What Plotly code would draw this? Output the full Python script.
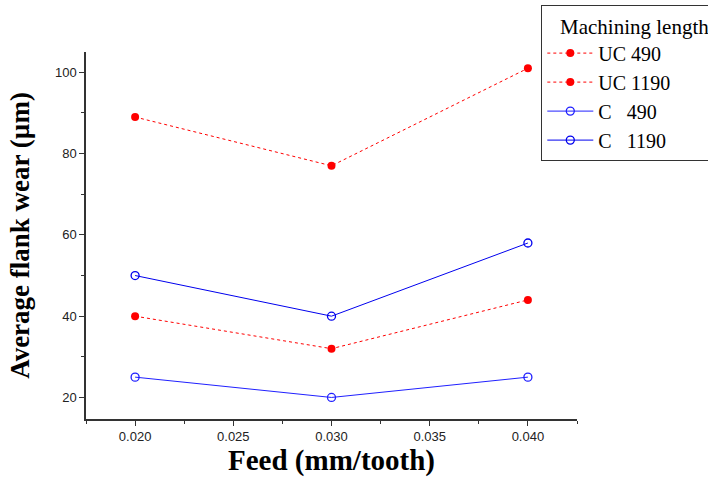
import plotly.graph_objects as go

feed = [0.020, 0.030, 0.040]
uc_490 = [40, 32, 44]
uc_1190 = [89, 77, 101]
c_490 = [25, 20, 25]
c_1190 = [50, 40, 58]
series_names = ["UC 490", "UC 1190", "C   490", "C   1190"]

fig = go.Figure()
fig.add_trace(go.Scatter(x=feed, y=uc_490, name=series_names[0], mode="lines+markers",
                         line=dict(color="#ff0000", width=1, dash="dot"),
                         marker=dict(symbol="circle", size=8, color="#ff0000")))
fig.add_trace(go.Scatter(x=feed, y=uc_1190, name=series_names[1], mode="lines+markers",
                         line=dict(color="#ff0000", width=1, dash="dot"),
                         marker=dict(symbol="circle", size=8, color="#ff0000")))
fig.add_trace(go.Scatter(x=feed, y=c_490, name=series_names[2], mode="lines+markers",
                         line=dict(color="#2020ff", width=1),
                         marker=dict(symbol="circle-open", size=8, color="#2020ff", line=dict(width=1.3))))
fig.add_trace(go.Scatter(x=feed, y=c_1190, name=series_names[3], mode="lines+markers",
                         line=dict(color="#0000ee", width=1),
                         marker=dict(symbol="circle-open", size=8, color="#0000ee", line=dict(width=1.3))))

axis_common = dict(showline=True, linecolor="#333333", linewidth=1.5, showgrid=False, zeroline=False,
                   ticks="outside", ticklen=5, tickwidth=1.3, tickcolor="#333333",
                   tickfont=dict(family="Liberation Sans, Arial", size=13, color="#222222"))

serif = "Liberation Serif, Times New Roman"

fig.update_layout(
    width=708, height=479,
    margin=dict(l=86, r=131, t=52, b=60, autoexpand=False),
    paper_bgcolor="white", plot_bgcolor="white",
    xaxis=dict(range=[0.0175, 0.0425], tickvals=[0.020, 0.025, 0.030, 0.035, 0.040],
               ticktext=["0.020", "0.025", "0.030", "0.035", "0.040"],
               minor=dict(ticks="outside", ticklen=3, tickwidth=1, tickcolor="#333333",
                          tickvals=[0.0175, 0.0225, 0.0275, 0.0325, 0.0375, 0.0425]),
               title=dict(text="<b>Feed (mm/tooth)</b>", font=dict(family=serif, size=29, color="black"), standoff=6),
               automargin=False, **axis_common),
    yaxis=dict(range=[14.7, 105], tickvals=[20, 40, 60, 80, 100],
               minor=dict(ticks="outside", ticklen=3, tickwidth=1, tickcolor="#333333", tickvals=[30, 50, 70, 90]),
               title=dict(text="<b>Average flank wear (µm)</b>", font=dict(family=serif, size=27, color="black"), standoff=17),
               automargin=False, **axis_common),
    legend=dict(x=(541 - 86) / 491, y=1 + (52 - 5) / 367, xanchor="left", yanchor="top",
                bordercolor="#333333", borderwidth=1.3, bgcolor="white",
                title=dict(text="&nbsp;&nbsp;&nbsp;Machining length",
                           font=dict(family=serif, size=21, color="black")),
                font=dict(family=serif, size=20, color="black"),
                tracegroupgap=0, itemwidth=46),
    showlegend=True,
)

fig.write_html("out.html", config={"displayModeBar": False},
               post_script="document.body.style.margin='0';document.body.style.overflow='hidden';")
